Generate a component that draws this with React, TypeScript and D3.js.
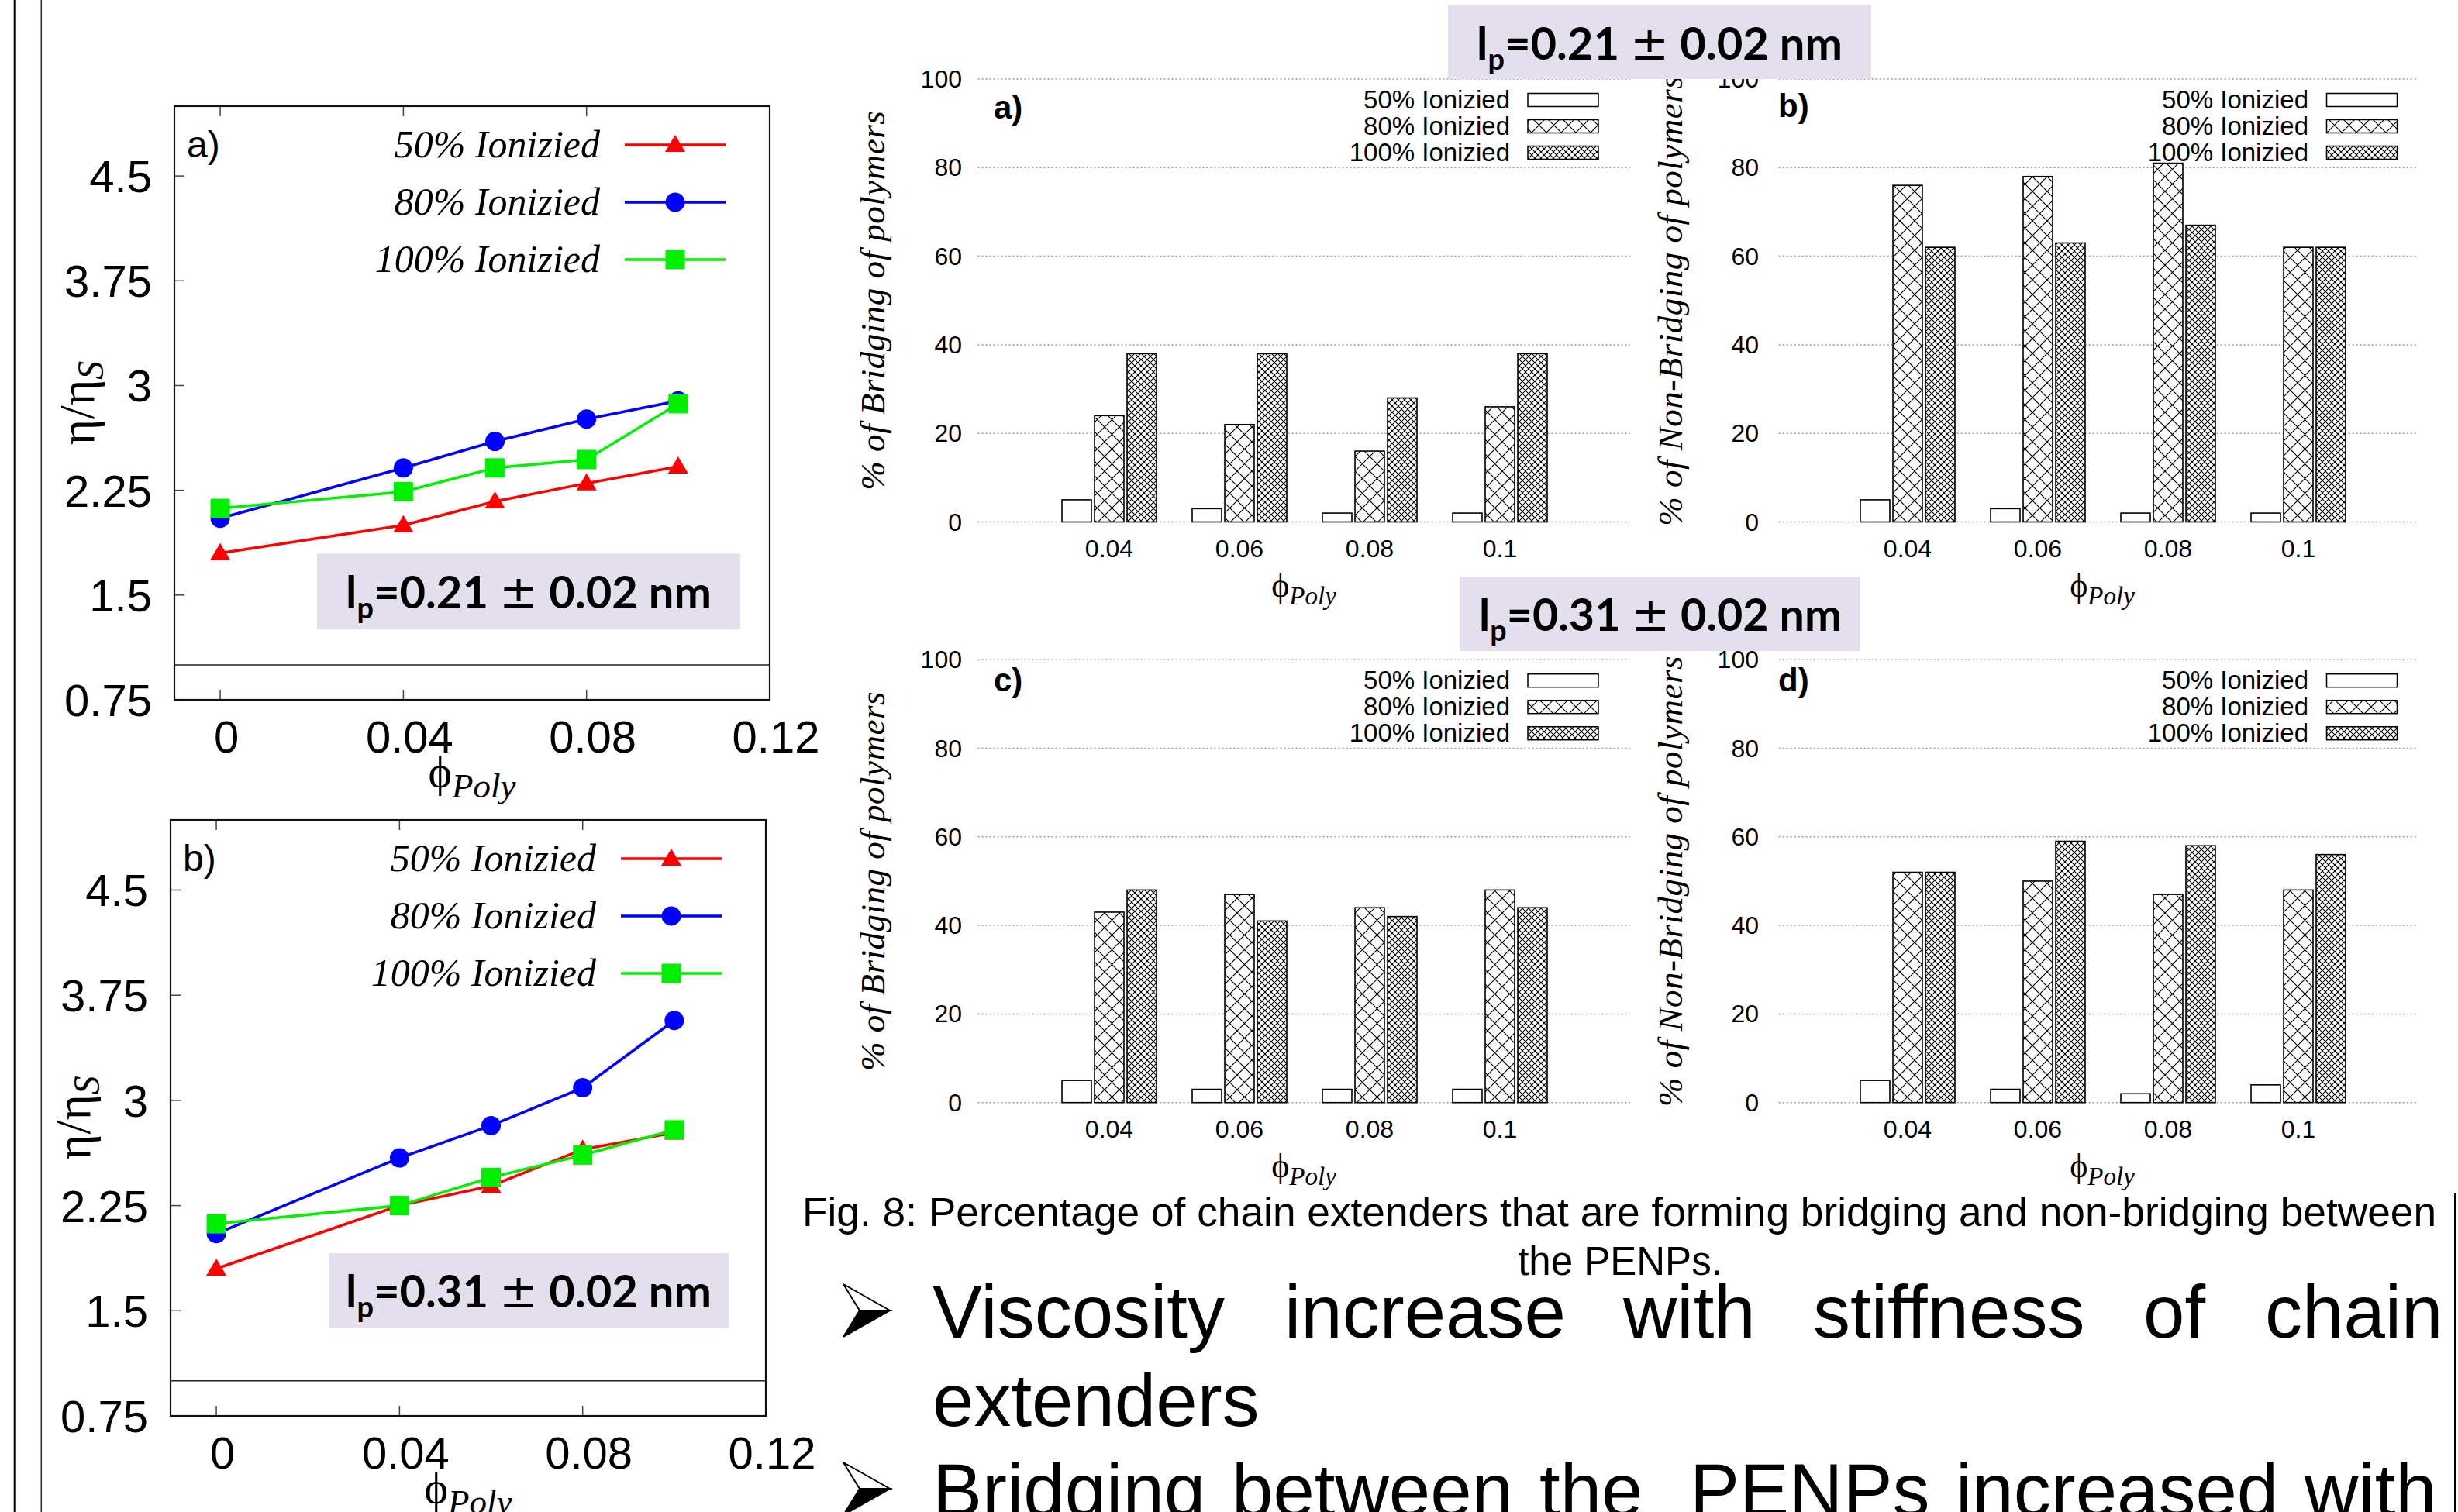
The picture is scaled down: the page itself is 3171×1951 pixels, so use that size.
import React from "react";
import * as d3 from "d3";

// ---------------- DATA ----------------
const phiValues = [0, 0.04, 0.06, 0.08, 0.1];
const xTickValues = [0, 0.04, 0.08, 0.12];
const xTickLabels = ["0", "0.04", "0.08", "0.12"];
const yTickValues = [0.75, 1.5, 2.25, 3, 3.75, 4.5];
const yTickLabels = ["0.75", "1.5", "2.25", "3", "3.75", "4.5"];
const seriesNames = ["50% Ionizied", "80% Ionizied", "100% Ionizied"];

// viscosity, panel a (lp = 0.21)
const viscA50 = [1.8, 2.0, 2.17, 2.3, 2.42];
const viscA80 = [2.05, 2.41, 2.6, 2.76, 2.89];
const viscA100 = [2.12, 2.24, 2.41, 2.47, 2.87];
// viscosity, panel b (lp = 0.31)
const viscB50 = [1.8, 2.25, 2.39, 2.65, 2.77];
const viscB80 = [2.05, 2.59, 2.82, 3.09, 3.57];
const viscB100 = [2.12, 2.25, 2.45, 2.61, 2.79];

// bar charts
const phiCats = ["0.04", "0.06", "0.08", "0.1"];
const barTicks = [0, 20, 40, 60, 80, 100];
const bridgeA50 = [5, 3, 2, 2];
const bridgeA80 = [24, 22, 16, 26];
const bridgeA100 = [38, 38, 28, 38];
const nonBridgeB50 = [5, 3, 2, 2];
const nonBridgeB80 = [76, 78, 81, 62];
const nonBridgeB100 = [62, 63, 67, 62];
const bridgeC50 = [5, 3, 3, 3];
const bridgeC80 = [43, 47, 44, 48];
const bridgeC100 = [48, 41, 42, 44];
const nonBridgeD50 = [5, 3, 2, 4];
const nonBridgeD80 = [52, 50, 47, 48];
const nonBridgeD100 = [52, 59, 58, 56];

const captionLine1 =
  "Fig. 8: Percentage of chain extenders that are forming bridging and non-bridging between";
const captionLine2 = "the PENPs.";
const bullet1Words = ["Viscosity", "increase", "with", "stiffness", "of", "chain"];
const bullet2Words = ["extenders"];
const bullet3Words = ["Bridging", "between", "the", "PENPs", "increased", "with"];

// ---------------- STYLE ----------------
const W = 3171;
const H = 1951;
const SANS = "'Liberation Sans', Arial, Helvetica, sans-serif";
const SERIF = "'Liberation Serif', 'Times New Roman', serif";
const BOXFONT = "Lato, 'Open Sans', sans-serif";
const BOXFILL = "#e4dfec";
const lineColors = ["#ff0000", "#0000ff", "#00ee00"];
const PHI = "\u03D5";

type Frame = { x0: number; x1: number; y0: number; y1: number };

function Marker({ kind, cx, cy, color }: { kind: number; cx: number; cy: number; color: string }) {
  if (kind === 0) {
    return <polygon points={`${cx},${cy - 13} ${cx - 13},${cy + 9} ${cx + 13},${cy + 9}`} fill={color} />;
  }
  if (kind === 1) return <circle cx={cx} cy={cy} r={12.5} fill={color} />;
  return <rect x={cx - 12.5} y={cy - 12.5} width={25} height={25} fill={color} />;
}

function LpBox({ x, y, w, h, tx, tw, value }: { x: number; y: number; w: number; h: number; tx: number; tw: number; value: string }) {
  return (
    <g>
      <rect x={x} y={y} width={w} height={h} fill={BOXFILL} />
      <text
        x={tx}
        y={y + 70}
        fontFamily={BOXFONT}
        fontWeight="bold"
        fontSize={58}
        textLength={tw}
        lengthAdjust="spacingAndGlyphs"
        fill="#000"
      >
        l<tspan dy={13} fontSize={38}>p</tspan>
        <tspan dy={-13}>{"=" + value + " "}</tspan>
        <tspan fontWeight="normal" fontFamily="'DejaVu Sans', sans-serif" fontSize={60}>±</tspan>
        <tspan>{" 0.02 nm"}</tspan>
      </text>
    </g>
  );
}

function LinePanel({ f, data, label }: { f: Frame; data: number[][]; label: string }) {
  const x = d3.scaleLinear().domain([-0.01, 0.12]).range([f.x0, f.x1]);
  const y = d3.scaleLinear().domain([0.75, 5]).range([f.y1, f.y0]);
  const line = d3
    .line<number>()
    .x((_, i) => x(phiValues[i]))
    .y((v) => y(v));
  const legRows = [f.y0 + 50, f.y0 + 124, f.y0 + 198];
  return (
    <g>
      <line x1={f.x0} x2={f.x1} y1={y(1)} y2={y(1)} stroke="#222" strokeWidth={1.6} />
      {yTickValues.map((v) => (
        <line key={"yt" + v} x1={f.x0} x2={f.x0 + 13} y1={y(v)} y2={y(v)} stroke="#444" strokeWidth={1.5} />
      ))}
      {xTickValues.slice(0, 3).map((v) => (
        <g key={"xt" + v}>
          <line x1={x(v)} x2={x(v)} y1={f.y0} y2={f.y0 + 13} stroke="#444" strokeWidth={1.5} />
          <line x1={x(v)} x2={x(v)} y1={f.y1} y2={f.y1 - 13} stroke="#444" strokeWidth={1.5} />
        </g>
      ))}
      <rect x={f.x0} y={f.y0} width={f.x1 - f.x0} height={f.y1 - f.y0} fill="none" stroke="#111" strokeWidth={2.2} />
      {yTickValues.map((v, i) => (
        <text key={"yl" + v} x={f.x0 - 29} y={y(v) + 21} textAnchor="end" fontFamily={SANS} fontSize={58} fill="#000">
          {yTickLabels[i]}
        </text>
      ))}
      {xTickValues.map((v, i) => (
        <text key={"xl" + v} x={x(v) + 8} y={f.y1 + 68} textAnchor="middle" fontFamily={SANS} fontSize={58} fill="#000">
          {xTickLabels[i]}
        </text>
      ))}
      <text
        transform={`translate(${f.x0 - 104},${(f.y0 + f.y1) / 2}) rotate(-90)`}
        textAnchor="middle"
        fontFamily={SERIF}
        fontSize={64}
        fill="#000"
      >
        η/η<tspan dy={12} fontSize={48} fontStyle="italic">S</tspan>
      </text>
      <text x={(f.x0 + f.x1) / 2} y={f.y1 + 112} textAnchor="middle" fontFamily={SERIF} fontSize={58} fill="#000">
        {PHI}<tspan dy={14} fontSize={45} fontStyle="italic">Poly</tspan>
      </text>
      <text x={f.x0 + 16} y={f.y0 + 66} fontFamily={SANS} fontSize={48} fill="#000">
        {label}
      </text>
      {data.map((vals, s) => (
        <g key={"s" + s}>
          <path d={line(vals) || ""} fill="none" stroke={lineColors[s]} strokeWidth={3.5} />
          {vals.map((v, i) => (
            <Marker key={i} kind={s} cx={x(phiValues[i])} cy={y(v)} color={lineColors[s]} />
          ))}
        </g>
      ))}
      {seriesNames.map((n, s) => (
        <g key={"lg" + s}>
          <text
            x={f.x1 - 219}
            y={legRows[s] + 16}
            textAnchor="end"
            fontFamily={SERIF}
            fontStyle="italic"
            fontSize={50}
            fill="#000"
          >
            {n}
          </text>
          <line x1={f.x1 - 187} x2={f.x1 - 57} y1={legRows[s]} y2={legRows[s]} stroke={lineColors[s]} strokeWidth={3.5} />
          <Marker kind={s} cx={f.x1 - 122} cy={legRows[s]} color={lineColors[s]} />
        </g>
      ))}
    </g>
  );
}

type BarCfg = {
  idx0: number;
  y0: number;
  y100: number;
  gx0: number;
  gx1: number;
  labelX: number;
  panelX: number;
  panelY: number;
  legRight: number;
  legBox0: number;
  titleX: number;
  xTitleX: number;
};

const fills = ["#ffffff", "url(#hatchWide)", "url(#hatchDense)"];

function BarPanel({ c, data, label, ytitle }: { c: BarCfg; data: number[][]; label: string; ytitle: string }) {
  const x = d3.scaleLinear().domain([0, 1]).range([c.idx0, c.idx0 + 168]);
  const y = d3.scaleLinear().domain([0, 100]).range([c.y0, c.y100]);
  const bw = x(0.226) - x(0);
  const legRows = [c.y100 + 27, c.y100 + 61, c.y100 + 95];
  return (
    <g>
      {barTicks.map((t) => (
        <g key={"g" + t}>
          <line x1={c.gx0} x2={c.gx1} y1={y(t)} y2={y(t)} stroke="#9a9a9a" strokeWidth={1.5} strokeDasharray="2,3" />
          <text x={c.labelX} y={y(t) + 11} textAnchor="end" fontFamily={SANS} fontSize={32} fill="#000">
            {t}
          </text>
        </g>
      ))}
      {phiCats.map((cat, i) => (
        <text key={cat} x={x(i)} y={c.y0 + 45} textAnchor="middle" fontFamily={SANS} fontSize={32} fill="#000">
          {cat}
        </text>
      ))}
      {data.map((vals, s) =>
        vals.map((v, i) => (
          <rect
            key={s + "-" + i}
            x={x(i + (s - 1) * 0.25) - bw / 2}
            y={y(v)}
            width={bw}
            height={y(0) - y(v)}
            fill={fills[s]}
            stroke="#000"
            strokeWidth={1.6}
          />
        ))
      )}
      <text x={c.panelX} y={c.panelY + 14} fontFamily={SANS} fontWeight="bold" fontSize={42} fill="#000">
        {label}
      </text>
      {seriesNames.map((n, s) => (
        <g key={"l" + s}>
          <text x={c.legRight} y={legRows[s] + 11} textAnchor="end" fontFamily={SANS} fontSize={33} fill="#000">
            {n}
          </text>
          <rect x={c.legBox0} y={legRows[s] - 8.5} width={91} height={17} fill={fills[s]} stroke="#000" strokeWidth={1.5} />
        </g>
      ))}
      <text
        transform={`translate(${c.titleX},${(c.y0 + c.y100) / 2}) rotate(-90)`}
        textAnchor="middle"
        dominantBaseline="central"
        fontFamily={SERIF}
        fontStyle="italic"
        fontSize={45}
        letterSpacing={0.5}
        fill="#000"
      >
        {ytitle}
      </text>
      <text x={c.xTitleX} y={c.y0 + 96} textAnchor="middle" fontFamily={SERIF} fontSize={44} fill="#000">
        {PHI}<tspan dy={10} fontSize={33} fontStyle="italic">Poly</tspan>
      </text>
    </g>
  );
}

function Arrow({ x, base }: { x: number; base: number }) {
  const top = base - 69;
  const tip = base - 35;
  const bot = base - 1;
  return (
    <g>
      <polygon points={`${x},${top} ${x + 60},${tip} ${x + 21},${tip}`} fill="#fff" stroke="#000" strokeWidth={2} />
      <polygon points={`${x + 21},${tip} ${x + 60},${tip} ${x},${bot}`} fill="#000" stroke="#000" strokeWidth={2} />
    </g>
  );
}

// left edges of the justified words (line spans 1203 .. 3144)
const bullet1X = [1203, 1657, 2094, 2339, 2765, 2922];
const bullet3X = [1203, 1589, 1986, 2180, 2523, 2973];

export default function App() {
  const cfgA: BarCfg = {
    idx0: 1431, y0: 673.5, y100: 102, gx0: 1261.5, gx1: 2103, labelX: 1241,
    panelX: 1282, panelY: 139, legRight: 1948, legBox0: 1971, titleX: 1126, xTitleX: 1682,
  };
  const cfgB: BarCfg = {
    idx0: 2461, y0: 673.5, y100: 102, gx0: 2294.7, gx1: 3119, labelX: 2269,
    panelX: 2294, panelY: 136.5, legRight: 2978, legBox0: 3001.5, titleX: 2155, xTitleX: 2712,
  };
  const cfgC: BarCfg = { ...cfgA, y0: 1422.7, y100: 851.2, panelY: 878 };
  const cfgD: BarCfg = { ...cfgB, y0: 1422.7, y100: 851.2, panelY: 877.5 };

  return (
    <svg
      width={W}
      height={H}
      viewBox={`0 0 ${W} ${H}`}
      style={{ position: "fixed", left: 0, top: 0, background: "#fff" }}
    >
      <defs>
        <pattern id="hatchWide" patternUnits="userSpaceOnUse" width={19} height={19}>
          <rect width={19} height={19} fill="#fff" />
          <path d="M0,0 L19,19 M0,19 L19,0" stroke="#000" strokeWidth={1.2} />
        </pattern>
        <pattern id="hatchDense" patternUnits="userSpaceOnUse" width={8} height={8}>
          <rect width={8} height={8} fill="#fff" />
          <path d="M0,0 L8,8 M0,8 L8,0" stroke="#000" strokeWidth={1.1} />
        </pattern>
      </defs>
      <rect width={W} height={H} fill="#fff" />

      {/* slide borders */}
      <line x1={18.7} x2={18.7} y1={0} y2={H} stroke="#000" strokeWidth={2} />
      <line x1={53.3} x2={53.3} y1={0} y2={H} stroke="#333" strokeWidth={1.6} />
      <line x1={3167} x2={3167} y1={1540} y2={H} stroke="#000" strokeWidth={2} />

      {/* left viscosity panels */}
      <LinePanel f={{ x0: 225, x1: 993, y0: 137, y1: 903 }} data={[viscA50, viscA80, viscA100]} label="a)" />
      <LpBox x={409} y={714.5} w={546} h={97.5} tx={446} tw={472} value="0.21" />
      <LinePanel f={{ x0: 220, x1: 988, y0: 1058, y1: 1827 }} data={[viscB50, viscB80, viscB100]} label="b)" />
      <LpBox x={424} y={1617} w={516} h={97} tx={446} tw={472} value="0.31" />

      {/* bar panels */}
      <BarPanel c={cfgA} data={[bridgeA50, bridgeA80, bridgeA100]} label="a)" ytitle="% of Bridging of polymers" />
      <BarPanel c={cfgB} data={[nonBridgeB50, nonBridgeB80, nonBridgeB100]} label="b)" ytitle="% of Non-Bridging of polymers" />
      <BarPanel c={cfgC} data={[bridgeC50, bridgeC80, bridgeC100]} label="c)" ytitle="% of Bridging of polymers" />
      <BarPanel c={cfgD} data={[nonBridgeD50, nonBridgeD80, nonBridgeD100]} label="d)" ytitle="% of Non-Bridging of polymers" />
      <LpBox x={1868} y={7} w={546} h={95} tx={1905} tw={472} value="0.21" />
      <LpBox x={1883} y={744} w={516} h={96} tx={1908} tw={468} value="0.31" />

      {/* caption */}
      <text
        x={1035}
        y={1582}
        fontFamily={SANS}
        fontSize={51}
        textLength={2108}
        lengthAdjust="spacingAndGlyphs"
        fill="#000"
      >
        {captionLine1}
      </text>
      <text x={2090} y={1645} textAnchor="middle" fontFamily={SANS} fontSize={51} fill="#000">
        {captionLine2}
      </text>

      {/* bullets */}
      <Arrow x={1088} base={1726} />
      {bullet1Words.map((w, i) => (
        <text key={"b1" + i} x={bullet1X[i]} y={1726} fontFamily={SANS} fontSize={96} fill="#000">
          {w}
        </text>
      ))}
      {bullet2Words.map((w, i) => (
        <text key={"b2" + i} x={1203} y={1840} fontFamily={SANS} fontSize={96} fill="#000">
          {w}
        </text>
      ))}
      <Arrow x={1088} base={1956} />
      {bullet3Words.map((w, i) => (
        <text key={"b3" + i} x={bullet3X[i]} y={1956} fontFamily={SANS} fontSize={96} fill="#000">
          {w}
        </text>
      ))}
    </svg>
  );
}
